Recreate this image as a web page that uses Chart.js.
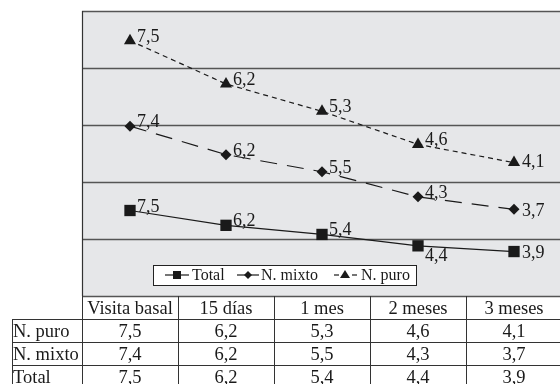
<!DOCTYPE html>
<html>
<head>
<meta charset="utf-8">
<script src="https://cdn.jsdelivr.net/npm/chart.js@4.4.1/dist/chart.umd.min.js"></script>
<style>
  html, body { margin: 0; padding: 0; overflow: hidden; background: #fff; }
  canvas { display: block; }
</style>
</head>
<body>
<canvas id="c" width="570" height="384"></canvas>
<script>
// Mean scores per visit
const categories = ['Visita basal', '15 días', '1 mes', '2 meses', '3 meses'];
const totalValues = [7.5, 6.2, 5.4, 4.4, 3.9];
const mixtoValues = [7.4, 6.2, 5.5, 4.3, 3.7];
const puroValues  = [7.5, 6.2, 5.3, 4.6, 4.1];
const seriesNames = ['Total', 'N. mixto', 'N. puro'];
const yTicks = [0, 5, 10, 15, 20, 25];

const SERIF = '"Liberation Serif", "Times New Roman", serif';
const INK = '#1a1a1a';

const fmt = v => v.toFixed(1).replace('.', ',');

// label nudges [dx, dy] relative to the point, per "dataset-index"
const labelNudge = {
  '0-3': [7, 15], '0-4': [8, 6],
  '1-4': [8, 7],
  '2-4': [8, 4]
};

const plotPlugin = {
  id: 'plotDecor',
  beforeDatasetsDraw(chart) {
    const { ctx, chartArea: a, scales: { y } } = chart;
    ctx.save();
    ctx.fillStyle = '#e6e7e9';
    ctx.fillRect(a.left, a.top, a.right - a.left, a.bottom - a.top);
    // horizontal grid
    ctx.strokeStyle = '#555';
    ctx.lineWidth = 1.3;
    yTicks.forEach(t => {
      const py = Math.round(y.getPixelForValue(t)) + 0.5;
      ctx.beginPath();
      ctx.moveTo(a.left, py);
      ctx.lineTo(a.right, py);
      ctx.stroke();
    });
    // frame
    ctx.strokeStyle = '#333';
    ctx.lineWidth = 1.2;
    ctx.beginPath();
    ctx.moveTo(Math.round(a.left) + 0.5, a.top);
    ctx.lineTo(Math.round(a.left) + 0.5, a.bottom);
    ctx.stroke();
    ctx.restore();
  },
  afterDatasetsDraw(chart) {
    const { ctx } = chart;
    ctx.save();
    ctx.fillStyle = INK;
    ctx.font = '18px ' + SERIF;
    ctx.textAlign = 'left';
    ctx.textBaseline = 'alphabetic';
    chart.data.datasets.forEach((ds, di) => {
      const meta = chart.getDatasetMeta(di);
      meta.data.forEach((pt, i) => {
        const n = labelNudge[di + '-' + i] || [7, 1];
        ctx.fillText(fmt(ds.data[i]), pt.x + n[0], pt.y + n[1]);
      });
    });
    ctx.restore();
  },
  afterDraw(chart) {
    const { ctx, chartArea: a } = chart;
    ctx.save();

    // legend box
    const lx = 153, ly = 265, lw = 263, lh = 20, cy = ly + lh / 2;
    ctx.fillStyle = '#fff';
    ctx.fillRect(lx, ly, lw, lh);
    ctx.strokeStyle = '#222';
    ctx.lineWidth = 1;
    ctx.strokeRect(lx + 0.5, ly + 0.5, lw, lh);
    ctx.strokeStyle = INK;
    ctx.fillStyle = INK;
    ctx.lineWidth = 1.2;
    // Total
    ctx.beginPath(); ctx.moveTo(165, cy); ctx.lineTo(189, cy); ctx.stroke();
    ctx.fillRect(173, cy - 4, 8, 8);
    // N. mixto
    ctx.beginPath(); ctx.moveTo(237, cy); ctx.lineTo(259, cy); ctx.stroke();
    ctx.beginPath();
    ctx.moveTo(248, cy - 4); ctx.lineTo(252, cy); ctx.lineTo(248, cy + 4); ctx.lineTo(244, cy);
    ctx.closePath(); ctx.fill();
    // N. puro
    ctx.beginPath(); ctx.moveTo(334, cy); ctx.lineTo(339, cy); ctx.stroke();
    ctx.beginPath(); ctx.moveTo(352, cy); ctx.lineTo(357, cy); ctx.stroke();
    ctx.beginPath();
    ctx.moveTo(345, cy - 5); ctx.lineTo(350, cy + 3); ctx.lineTo(340, cy + 3);
    ctx.closePath(); ctx.fill();
    ctx.font = '16px ' + SERIF;
    ctx.textBaseline = 'alphabetic';
    ctx.textAlign = 'left';
    ctx.fillText(seriesNames[0], 192, cy + 5);
    ctx.fillText(seriesNames[1], 261, cy + 5);
    ctx.fillText(seriesNames[2], 361, cy + 5);

    // data table under the plot
    const n = categories.length;
    const colW = (a.right - a.left) / n;
    const top = a.bottom;
    const rowH = 23;
    const labelLeft = 12;
    const rows = [
      [seriesNames[2], puroValues],
      [seriesNames[1], mixtoValues],
      [seriesNames[0], totalValues]
    ];
    ctx.strokeStyle = '#333';
    ctx.lineWidth = 1;
    // vertical rules
    for (let i = 0; i <= n; i++) {
      const px = Math.round(a.left + i * colW) + 0.5;
      ctx.beginPath(); ctx.moveTo(px, top); ctx.lineTo(px, 384); ctx.stroke();
    }
    ctx.beginPath(); ctx.moveTo(labelLeft + 0.5, top + rowH); ctx.lineTo(labelLeft + 0.5, 384); ctx.stroke();
    // horizontal rules
    for (let r = 1; r <= rows.length; r++) {
      const py = Math.round(top + r * rowH) + 0.5;
      ctx.beginPath(); ctx.moveTo(labelLeft, py); ctx.lineTo(a.right, py); ctx.stroke();
    }
    ctx.fillStyle = INK;
    ctx.font = '18.5px ' + SERIF;
    ctx.textAlign = 'center';
    categories.forEach((c, i) => {
      ctx.fillText(c, a.left + (i + 0.5) * colW, top + 18);
    });
    rows.forEach((row, r) => {
      const base = top + (r + 1) * rowH + 18;
      ctx.textAlign = 'left';
      ctx.fillText(row[0], labelLeft + 1, base);
      ctx.textAlign = 'center';
      row[1].forEach((v, i) => {
        ctx.fillText(fmt(v), a.left + (i + 0.5) * colW, base);
      });
    });
    ctx.restore();
  }
};

new Chart(document.getElementById('c'), {
  type: 'line',
  data: {
    labels: categories,
    datasets: [
      {
        label: seriesNames[0], data: totalValues,
        borderColor: INK, backgroundColor: INK, borderWidth: 1.2,
        pointStyle: 'rect', pointRadius: 8, pointBorderWidth: 0,
        fill: false, tension: 0
      },
      {
        label: seriesNames[1], data: mixtoValues,
        borderColor: INK, backgroundColor: INK, borderWidth: 1.2,
        borderDash: [17, 10],
        pointStyle: 'rectRot', pointRadius: 5.5, pointBorderWidth: 0,
        fill: false, tension: 0
      },
      {
        label: seriesNames[2], data: puroValues,
        borderColor: INK, backgroundColor: INK, borderWidth: 1.2,
        borderDash: [5, 4],
        pointStyle: 'triangle', pointRadius: 7, pointBorderWidth: 0,
        fill: false, tension: 0
      }
    ]
  },
  options: {
    responsive: false,
    animation: false,
    layout: { padding: { left: 82, top: 11, right: 1, bottom: 88 } },
    plugins: { legend: { display: false }, tooltip: { enabled: false } },
    scales: {
      x: { display: false, offset: true },
      y: { display: false, stacked: true, min: 0, max: 25 }
    }
  },
  plugins: [plotPlugin]
});
</script>
</body>
</html>
